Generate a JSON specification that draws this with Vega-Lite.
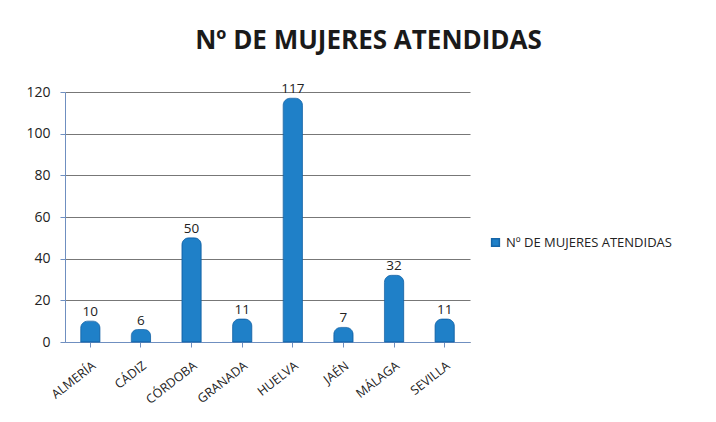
{
  "$schema": "https://vega.github.io/schema/vega-lite/v6.json",
  "autosize": "none",
  "width": 405,
  "height": 250,
  "padding": {"left": 65, "top": 92, "right": 246, "bottom": 80},
  "background": "white",
  "title": {
    "text": "Nº DE MUJERES ATENDIDAS",
    "font": "Open Sans",
    "fontSize": 26,
    "fontWeight": "bold",
    "color": "#1a1a1a",
    "anchor": "middle",
    "dx": 101,
    "offset": 28
  },
  "data": {
    "values": [
      {"provincia": "ALMERÍA", "valor": 10, "serie": "Nº DE MUJERES ATENDIDAS"},
      {"provincia": "CÁDIZ", "valor": 6, "serie": "Nº DE MUJERES ATENDIDAS"},
      {"provincia": "CÓRDOBA", "valor": 50, "serie": "Nº DE MUJERES ATENDIDAS"},
      {"provincia": "GRANADA", "valor": 11, "serie": "Nº DE MUJERES ATENDIDAS"},
      {"provincia": "HUELVA", "valor": 117, "serie": "Nº DE MUJERES ATENDIDAS"},
      {"provincia": "JAÉN", "valor": 7, "serie": "Nº DE MUJERES ATENDIDAS"},
      {"provincia": "MÁLAGA", "valor": 32, "serie": "Nº DE MUJERES ATENDIDAS"},
      {"provincia": "SEVILLA", "valor": 11, "serie": "Nº DE MUJERES ATENDIDAS"}
    ]
  },
  "encoding": {
    "x": {
      "field": "provincia",
      "type": "nominal",
      "sort": null,
      "scale": {"paddingInner": 0.62, "paddingOuter": 0.31},
      "axis": {
        "title": null,
        "labelAngle": -38,
        "labelFont": "Open Sans",
        "labelFontSize": 12.5,
        "labelColor": "#222",
        "labelPadding": 12,
        "domainColor": "#6f8fc0",
        "tickColor": "#6f8fc0",
        "tickSize": 5
      }
    },
    "y": {
      "field": "valor",
      "type": "quantitative",
      "scale": {"domain": [0, 120]},
      "axis": {
        "title": null,
        "values": [0, 20, 40, 60, 80, 100, 120],
        "labelFont": "Open Sans",
        "labelFontSize": 14,
        "labelColor": "#222",
        "labelPadding": 10,
        "domainColor": "#6f8fc0",
        "tickColor": "#6f8fc0",
        "tickSize": 5,
        "gridColor": "#555",
        "gridWidth": 1,
        "gridOpacity": 0.8
      }
    }
  },
  "layer": [
    {
      "mark": {"type": "bar", "cornerRadiusTopLeft": 7, "cornerRadiusTopRight": 7, "stroke": "#1565a8", "strokeWidth": 0.8},
      "encoding": {
        "color": {
          "field": "serie",
          "type": "nominal",
          "scale": {"range": ["#1f80c8"]},
          "legend": {
            "title": null,
            "orient": "none",
            "legendX": 424,
            "legendY": 144,
            "symbolType": "square",
            "symbolSize": 60,
            "labelFont": "Open Sans",
            "labelFontSize": 13,
            "labelLimit": 300,
            "labelColor": "#222"
          }
        }
      }
    },
    {
      "mark": {"type": "text", "dy": -9, "font": "Open Sans", "fontSize": 13.5, "color": "#222"},
      "encoding": {"text": {"field": "valor", "type": "quantitative"}}
    }
  ],
  "config": {"view": {"stroke": null}}
}
